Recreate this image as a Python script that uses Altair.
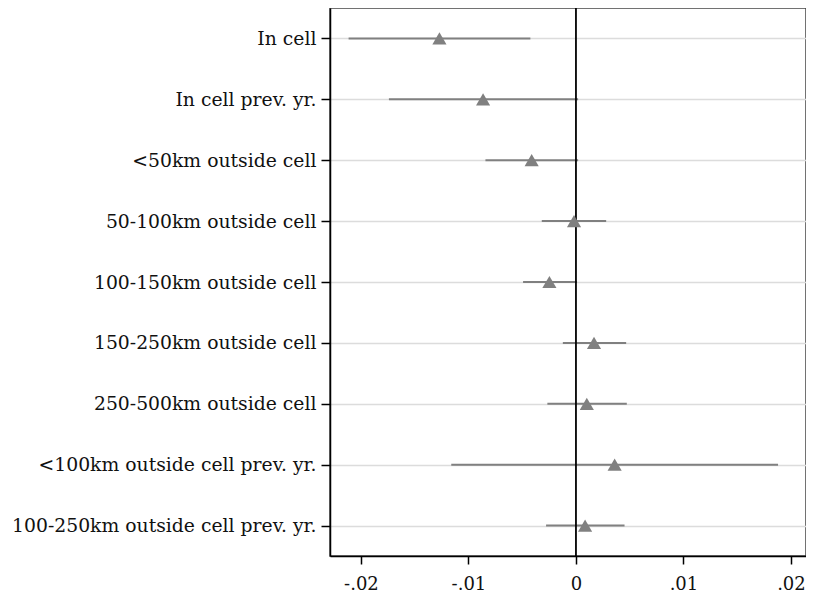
import altair as alt
import pandas as pd

labels = [
    "In cell",
    "In cell prev. yr.",
    "<50km outside cell",
    "50-100km outside cell",
    "100-150km outside cell",
    "150-250km outside cell",
    "250-500km outside cell",
    "<100km outside cell prev. yr.",
    "100-250km outside cell prev. yr.",
]
estimate = [-0.0127, -0.00864, -0.00412, -0.00018, -0.00247, 0.00168, 0.00101, 0.0036, 0.00085]
ci_low = [-0.02115, -0.0174, -0.00842, -0.00318, -0.00492, -0.00122, -0.00266, -0.0116, -0.00278]
ci_high = [-0.00424, 0.0002, 0.0002, 0.00281, 0.0001, 0.00467, 0.00473, 0.0188, 0.00452]
x_ticks = [-0.02, -0.01, 0, 0.01, 0.02]

df = pd.DataFrame({"label": labels, "est": estimate, "lo": ci_low, "hi": ci_high})

FONT = "DejaVu Serif"
xdom = [-0.02288, 0.0214]

yenc = alt.Y(
    "label:N",
    sort=labels,
    scale=alt.Scale(type="point", padding=0.5),
    axis=alt.Axis(
        title=None,
        grid=True,
        gridColor="#dcdcdc",
        gridWidth=1.5,
        domainColor="black",
        domainWidth=1.5,
        tickColor="black",
        tickSize=9,
        tickWidth=1.5,
        labelFont=FONT,
        labelFontSize=18.8,
        labelColor="#111",
        labelPadding=5,
        labelLimit=400,
    ),
)

xscale = alt.Scale(domain=xdom, nice=False, zero=False)
xaxis = alt.Axis(
    title=None,
    values=x_ticks,
    grid=False,
    domainColor="black",
    domainWidth=1.5,
    tickColor="black",
    tickSize=8,
    tickWidth=1.5,
    labelFont=FONT,
    labelFontSize=18,
    labelColor="#111",
    labelPadding=11,
    labelFlush=False,
    labelExpr="datum.value == 0 ? '0' : (datum.value < 0 ? '-' : '') + '.0' + format(round(abs(datum.value) * 100), 'd')",
)

ci = alt.Chart(df).mark_rule(color="#808080", strokeWidth=2).encode(
    x=alt.X("lo:Q", scale=xscale, axis=xaxis),
    x2="hi:Q",
    y=yenc,
)

zero = alt.Chart(pd.DataFrame({"z": [0]})).mark_rule(color="black", strokeWidth=1.8).encode(
    x=alt.X("z:Q", scale=xscale)
)

pts = alt.Chart(df).mark_point(
    shape="triangle-up", filled=True, color="#808080", opacity=1, size=200
).encode(
    x=alt.X("est:Q", scale=xscale),
    y=alt.Y("label:N", sort=labels),
)

chart = (
    alt.layer(ci, zero, pts)
    .properties(
        width=476,
        height=548,
        padding={"left": 322, "top": 0, "right": 0, "bottom": 36},
        autosize=alt.AutoSizeParams(type="none"),
        background="white",
    )
    .configure_view(stroke="#444", strokeWidth=1.5)
)

chart.save("out.html", embed_options={"renderer": "svg", "actions": False})
